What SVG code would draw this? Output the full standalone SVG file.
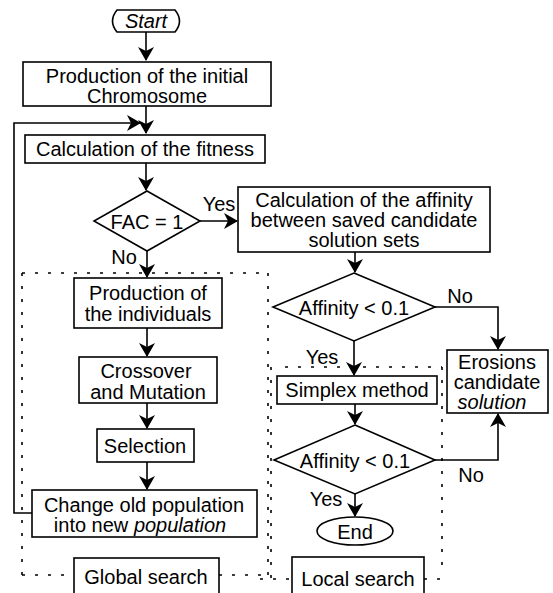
<svg xmlns="http://www.w3.org/2000/svg" width="553" height="593" viewBox="0 0 553 593">
<defs>
<style>
.b{fill:#fff;stroke:#000;stroke-width:1.6}
.t{font-family:"Liberation Sans",Arial,sans-serif;font-size:20px;fill:#000;text-anchor:middle;dominant-baseline:central}
.l{fill:none;stroke:#000;stroke-width:1.6}
.d{fill:none;stroke:#000;stroke-width:1.6;stroke-dasharray:3,10}
.i{font-style:italic}
</style>
<marker id="a" viewBox="0 0 14 16" refX="13" refY="8" markerWidth="14" markerHeight="16" markerUnits="userSpaceOnUse" orient="auto">
<path d="M0,0 L14,8 L0,16 L4,8 Z" fill="#000"/>
</marker>
</defs>
<rect width="553" height="593" fill="#fff"/>
<g id="regions">
<path class="d" d="M22,273 H268 M22,273 V575 M268,273 V575 M22,575 H74 M219,575 H268"/>
<path class="d" d="M285,367 H442 M271,367 V578 M442,367 V575 M260,579 H292 M424,579 H442"/>
</g>
<g id="connectors">
<path class="l" d="M146,32 V60" marker-end="url(#a)"/>
<path class="l" d="M146,106 V133" marker-end="url(#a)"/>
<path class="l" d="M32,513 H14 V123 H140" marker-end="url(#a)"/>
<path class="l" d="M146,163 V190" marker-end="url(#a)"/>
<path class="l" d="M200,221 H237" marker-end="url(#a)"/>
<path class="l" d="M147,251 V277" marker-end="url(#a)"/>
<path class="l" d="M147,328 V356" marker-end="url(#a)"/>
<path class="l" d="M147,403 V428" marker-end="url(#a)"/>
<path class="l" d="M147,462 V489" marker-end="url(#a)"/>
<path class="l" d="M355,252 V272" marker-end="url(#a)"/>
<path class="l" d="M435,307 H498 V349" marker-end="url(#a)"/>
<path class="l" d="M354,341 V375" marker-end="url(#a)"/>
<path class="l" d="M355,404 V424" marker-end="url(#a)"/>
<path class="l" d="M435,460 H498 V414" marker-end="url(#a)"/>
<path class="l" d="M355,493 V516" marker-end="url(#a)"/>
<text class="t" x="219" y="204">Yes</text>
<text class="t" x="124" y="257">No</text>
<text class="t" x="460" y="296">No</text>
<text class="t" x="322" y="357">Yes</text>
<text class="t" x="471" y="475">No</text>
<text class="t" x="326" y="499">Yes</text>
</g>
<g id="start">
<path class="b" d="M117,10 H175 Q184,21 175,32 H117 Q108,21 117,10 Z"/>
<text class="t i" x="146" y="21">Start</text>
</g>
<g id="init">
<rect class="b" x="23" y="62" width="248" height="44"/>
<text class="t" x="147" y="76">Production of the initial</text>
<text class="t" x="147" y="96">Chromosome</text>
</g>
<g id="fitness">
<rect class="b" x="25" y="135" width="240" height="28"/>
<text class="t" x="145" y="149">Calculation of the fitness</text>
</g>
<g id="fac">
<path class="b" d="M147,191 L200,221 L147,251 L94,221 Z"/>
<text class="t" x="147" y="222">FAC = 1</text>
</g>
<g id="affinity-calc">
<rect class="b" x="238" y="187" width="252" height="65"/>
<text class="t" x="364" y="200">Calculation of the affinity</text>
<text class="t" x="364" y="220">between saved candidate</text>
<text class="t" x="364" y="240">solution sets</text>
</g>
<g id="individuals">
<rect class="b" x="74" y="278" width="148" height="50"/>
<text class="t" x="148" y="293">Production of</text>
<text class="t" x="148" y="314">the individuals</text>
</g>
<g id="crossover">
<rect class="b" x="79" y="357" width="138" height="46"/>
<text class="t" x="146" y="371">Crossover</text>
<text class="t" x="148" y="392">and Mutation</text>
</g>
<g id="selection">
<rect class="b" x="97" y="429" width="97" height="33"/>
<text class="t" x="145" y="446">Selection</text>
</g>
<g id="change">
<rect class="b" x="32" y="490" width="225" height="47"/>
<text class="t" x="144" y="505">Change old population</text>
<text class="t" x="140" y="525">into new <tspan class="i">population</tspan></text>
</g>
<g id="global-label">
<rect class="b" x="74" y="558" width="145" height="40"/>
<text class="t" x="146" y="577">Global search</text>
</g>
<g id="affinity1">
<path class="b" d="M354,273 L435,307 L354,341 L273,307 Z"/>
<text class="t" x="354" y="308">Affinity &lt; 0.1</text>
</g>
<g id="erosions">
<rect class="b" x="447" y="350" width="101" height="63"/>
<text class="t" x="497" y="362">Erosions</text>
<text class="t" x="497" y="382">candidate</text>
<text class="t i" x="492" y="402">solution</text>
</g>
<g id="simplex">
<rect class="b" x="277" y="376" width="160" height="28"/>
<text class="t" x="357" y="390">Simplex method</text>
</g>
<g id="affinity2">
<path class="b" d="M355,425 L435,460 L355,494 L274,460 Z"/>
<text class="t" x="355" y="461">Affinity &lt; 0.1</text>
</g>
<g id="end">
<ellipse class="b" cx="355" cy="531" rx="38" ry="14"/>
<text class="t" x="355" y="532">End</text>
</g>
<g id="local-label">
<rect class="b" x="292" y="557" width="132" height="40"/>
<text class="t" x="358" y="579">Local search</text>
</g>
</svg>
